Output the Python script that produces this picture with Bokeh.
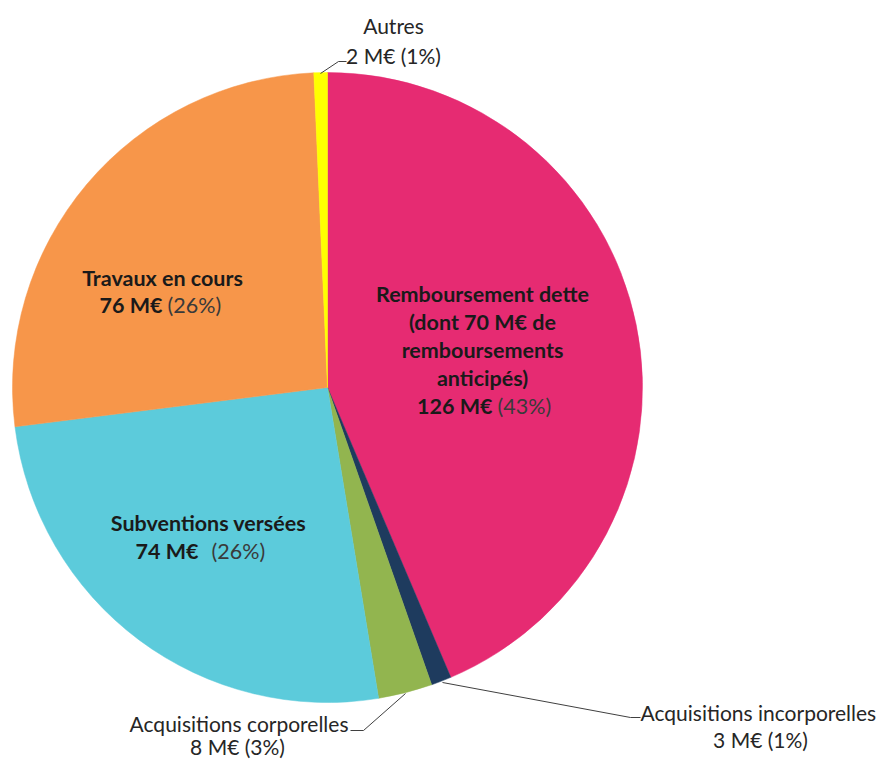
import math
from bokeh.plotting import figure
from bokeh.models import Range1d, ColumnDataSource
from bokeh.core.properties import value
from bokeh.embed import file_html
from bokeh.resources import INLINE

# ---- data ----
categories = ["Remboursement dette", "Acquisitions incorporelles", "Acquisitions corporelles",
              "Subventions versées", "Travaux en cours", "Autres"]
amounts = [126, 3, 8, 74, 76, 2]  # M€
percent_labels = ["(43%)", "(1%)", "(3%)", "(26%)", "(26%)", "(1%)"]
colors = ["#E62B72", "#1E3B5E", "#92B54F", "#5CCBDB", "#F7964A", "#FFFF00"]

W, H = 882, 760
FONT = "Lato"

p = figure(width=W, height=H, output_backend="svg", toolbar_location=None,
           x_range=Range1d(0, W), y_range=Range1d(0, H), min_border=0,
           background_fill_color="white", border_fill_color="white")
p.axis.visible = False
p.grid.visible = False
p.outline_line_color = None

def Y(py):
    return H - py

cx, cy, r = 327, Y(387), 315
total = sum(amounts)
starts, ends = [], []
cum = 0.0
for a in amounts:
    starts.append(math.pi / 2 - cum / total * 2 * math.pi)
    cum += a
    ends.append(math.pi / 2 - cum / total * 2 * math.pi)

src = ColumnDataSource(dict(cat=categories, start=starts, end=ends, color=colors))
p.wedge(x=cx, y=cy, radius=r, start_angle="start", end_angle="end", direction="clock",
        fill_color="color", line_color="color", line_width=0.5, source=src)

def txt(x, y, s, size=21, bold=False, align="center", color="#1a1a1a"):
    p.text(x=[x], y=[Y(y)], text=[s], text_font=value(FONT), text_font_size=f"{size}px",
           text_font_style="bold" if bold else "normal", text_align=align,
           text_baseline="middle", text_color=color)

def amt(i):
    return f"{amounts[i]} M€"

B = 21.5
# Remboursement dette (inside)
txt(482, 293, "Remboursement dette", size=B, bold=True)
txt(482, 321, "(dont 70 M€ de", size=B, bold=True)
txt(482, 349, "remboursements", size=B, bold=True)
txt(482, 377, "anticipés)", size=B, bold=True)
txt(492, 405, amt(0), size=B, bold=True, align="right")
txt(497, 405, percent_labels[0], size=B, align="left", color="#3a3a3a")

# Travaux en cours (inside)
txt(162, 277, categories[4], size=B, bold=True)
txt(162, 304, amt(4), size=B, bold=True, align="right")
txt(167, 304, percent_labels[4], size=B, align="left", color="#3a3a3a")

# Subventions versées (inside)
txt(208, 522, categories[3], size=B, bold=True)
txt(198, 550, amt(3), size=B, bold=True, align="right")
txt(211, 550, percent_labels[3], size=B, align="left", color="#3a3a3a")

# Outside labels
txt(393, 25, categories[5], color="#262626")
txt(393, 55, f"{amounts[5]} M€ {percent_labels[5]}", color="#262626")
p.line(x=[320, 338, 346], y=[Y(73), Y(61), Y(61)], line_color="#404040", line_width=1)

txt(348, 723, categories[2], align="right", color="#262626")
txt(237, 746, f"{amounts[2]} M€ {percent_labels[2]}", color="#262626")
p.line(x=[405, 363, 350], y=[Y(693), Y(730), Y(730)], line_color="#404040", line_width=1)

txt(640, 712, categories[1], align="left", color="#262626")
txt(760, 739, f"{amounts[1]} M€ {percent_labels[1]}", color="#262626")
p.line(x=[442, 630, 640], y=[Y(682), Y(717), Y(717)], line_color="#404040", line_width=1)

open("out.html", "w").write(file_html(p, INLINE))
